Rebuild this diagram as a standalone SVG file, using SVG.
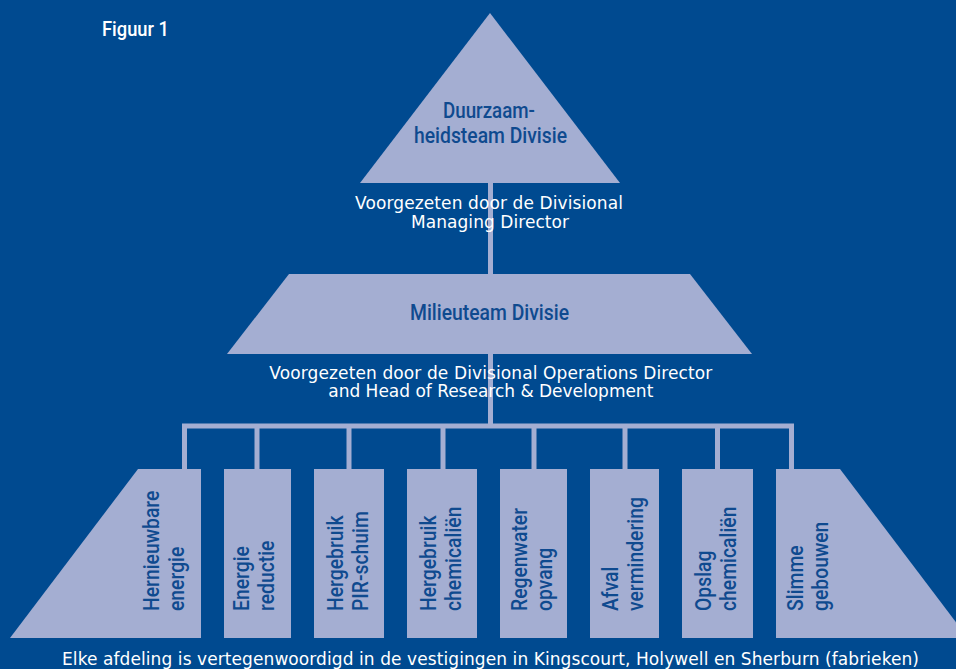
<svg xmlns="http://www.w3.org/2000/svg" width="956" height="669" viewBox="0 0 956 669">
<style>
.bg{fill:#004a90}
.shape{fill:#a4aed2}
.conn{fill:none;stroke:#a4aed2;stroke-width:5;stroke-linejoin:miter;stroke-linecap:butt}
.dk{font-family:Roboto,"Liberation Sans",sans-serif;font-size:22.5px;font-weight:500;fill:#0f4a8f}
.wt{font-family:"DejaVu Sans","Liberation Sans",sans-serif;font-size:17px;fill:#ffffff;text-anchor:middle}
.fig{font-family:Roboto,"Liberation Sans",sans-serif;font-size:20px;font-weight:500;fill:#ffffff}
</style>
<rect class="bg" x="0" y="0" width="956" height="669"/>
<text class="fig" x="102" y="36" textLength="67" lengthAdjust="spacingAndGlyphs">Figuur 1</text>
<g id="connectors">
<path class="conn" d="M490.5,183 V426"/>
<path class="conn" d="M184.5,469 V426 H791.5 V469"/>
<path class="conn" d="M257,426 V469 M349,426 V469 M443,426 V469 M534,426 V469 M625,426 V469 M717.5,426 V469"/>
</g>
<g id="duurzaamheidsteam">
<polygon class="shape" points="490,13 360,183 620,183"/>
<text class="dk" text-anchor="middle" x="489" y="118" textLength="92" lengthAdjust="spacingAndGlyphs">Duurzaam-</text>
<text class="dk" text-anchor="middle" x="490.5" y="143" textLength="153" lengthAdjust="spacingAndGlyphs">heidsteam Divisie</text>
<text class="wt" x="489" y="209" textLength="268" lengthAdjust="spacing">Voorgezeten door de Divisional</text>
<text class="wt" x="490" y="228" textLength="158" lengthAdjust="spacing">Managing Director</text>
</g>
<g id="milieuteam">
<polygon class="shape" points="289,274 690,274 752,354 227,354"/>
<text class="dk" text-anchor="middle" x="489.5" y="320" textLength="159" lengthAdjust="spacingAndGlyphs">Milieuteam Divisie</text>
<text class="wt" x="490.8" y="379" textLength="443" lengthAdjust="spacing">Voorgezeten door de Divisional Operations Director</text>
<text class="wt" x="490.8" y="397" textLength="325" lengthAdjust="spacing">and Head of Research &amp; Development</text>
</g>
<g id="hernieuwbare-energie">
<polygon class="shape" points="138,469 201,469 201,638 10,638"/>
<text class="dk" transform="translate(159.3,611) rotate(-90) scale(0.86,1)"><tspan x="0" y="0">Hernieuwbare</tspan><tspan x="0" y="25">energie</tspan></text>
</g>
<g id="energie-reductie">
<rect class="shape" x="224" y="469" width="67" height="169"/>
<text class="dk" transform="translate(249,611) rotate(-90) scale(0.86,1)"><tspan x="0" y="0">Energie</tspan><tspan x="0" y="25">reductie</tspan></text>
</g>
<g id="hergebruik-pir">
<rect class="shape" x="314" y="469" width="70" height="169"/>
<text class="dk" transform="translate(343.3,611) rotate(-90) scale(0.86,1)"><tspan x="0" y="0">Hergebruik</tspan><tspan x="0" y="25">PIR-schuim</tspan></text>
</g>
<g id="hergebruik-chemicalien">
<rect class="shape" x="407" y="469" width="70" height="169"/>
<text class="dk" transform="translate(436,611) rotate(-90) scale(0.86,1)"><tspan x="0" y="0">Hergebruik</tspan><tspan x="0" y="25">chemicaliën</tspan></text>
</g>
<g id="regenwater-opvang">
<rect class="shape" x="500" y="469" width="67" height="169"/>
<text class="dk" transform="translate(526.7,611) rotate(-90) scale(0.86,1)"><tspan x="0" y="0">Regenwater</tspan><tspan x="0" y="25">opvang</tspan></text>
</g>
<g id="afval-vermindering">
<rect class="shape" x="590" y="469" width="69" height="169"/>
<text class="dk" transform="translate(618.3,611) rotate(-90) scale(0.86,1)"><tspan x="0" y="0">Afval</tspan><tspan x="0" y="25">vermindering</tspan></text>
</g>
<g id="opslag-chemicalien">
<rect class="shape" x="682" y="469" width="71" height="169"/>
<text class="dk" transform="translate(710.7,611) rotate(-90) scale(0.86,1)"><tspan x="0" y="0">Opslag</tspan><tspan x="0" y="25">chemicaliën</tspan></text>
</g>
<g id="slimme-gebouwen">
<polygon class="shape" points="776,469 840,469 968,638 776,638"/>
<text class="dk" transform="translate(803.3,611) rotate(-90) scale(0.86,1)"><tspan x="0" y="0">Slimme</tspan><tspan x="0" y="25">gebouwen</tspan></text>
</g>
<text class="wt" x="490.5" y="665" textLength="857" lengthAdjust="spacing">Elke afdeling is vertegenwoordigd in de vestigingen in Kingscourt, Holywell en Sherburn (fabrieken)</text>
</svg>
